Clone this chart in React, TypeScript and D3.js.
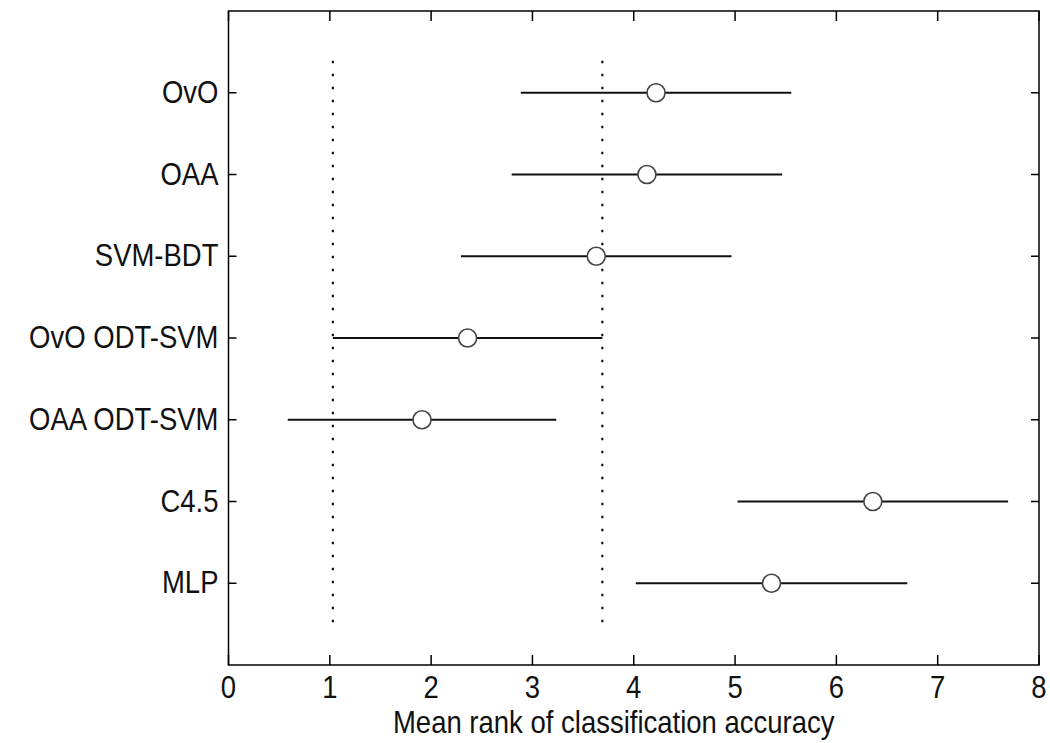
import React from 'react';
import * as d3 from 'd3';

// groups, top to bottom
const groups = ['OvO', 'OAA', 'SVM-BDT', 'OvO ODT-SVM', 'OAA ODT-SVM', 'C4.5', 'MLP'];
// mean ranks (circle centres)
const meanRank = [4.22, 4.13, 3.63, 2.36, 1.91, 6.36, 5.36];
// comparison interval half-width (same for every group)
const halfWidth = [1.335, 1.335, 1.335, 1.33, 1.325, 1.335, 1.34];
// selected group whose interval bounds get dotted lines
const selected = 'OvO ODT-SVM';
const xTicks = [0, 1, 2, 3, 4, 5, 6, 7, 8];
const xLabel = 'Mean rank of classification accuracy';

const W = 1050;
const H = 743;
const margin = { top: 11, right: 11, bottom: 78, left: 228.5 };
const font = 'Liberation Sans, Arial, sans-serif';
const stretch = 1.12; // source picture is slightly taller than wide

function Label({ x, y, anchor, children, dy = 0 }: { x: number; y: number; anchor: string; children: React.ReactNode; dy?: number }) {
  return (
    <text transform={`translate(${x},${y}) scale(1,${stretch})`} dy={dy} textAnchor={anchor}
      fontFamily={font} fontSize={27.5} fill="#111">{children}</text>
  );
}

export default function App() {
  const innerW = W - margin.left - margin.right;
  const innerH = H - margin.top - margin.bottom;

  const x = d3.scaleLinear().domain([0, 8]).range([0, innerW]);
  // group i sits at position n - i on a 0..n+1 axis
  const n = groups.length;
  const y = d3.scaleLinear().domain([0, n + 1]).range([innerH, 0]);
  const yPos = (i: number) => y(n - i);

  const si = groups.indexOf(selected);
  const bounds = [meanRank[si] - halfWidth[si], meanRank[si] + halfWidth[si]];

  return (
    <svg width={W} height={H} style={{ position: 'absolute', left: 0, top: 0, background: '#fff' }}>
      <g transform={`translate(${margin.left},${margin.top})`}>
        {/* dotted reference lines */}
        {bounds.map((b, k) => (
          <line key={k} x1={x(b)} x2={x(b)} y1={y(7.39)} y2={y(0.51)}
            stroke="#000" strokeWidth={2} strokeDasharray="2.5 10.5" />
        ))}

        {/* intervals */}
        {groups.map((g, i) => (
          <line key={g} x1={x(meanRank[i] - halfWidth[i])} x2={x(meanRank[i] + halfWidth[i])}
            y1={yPos(i)} y2={yPos(i)} stroke="#111" strokeWidth={2} />
        ))}
        {groups.map((g, i) => (
          <circle key={g} cx={x(meanRank[i])} cy={yPos(i)} r={9}
            fill="#fff" stroke="#444" strokeWidth={1.6} />
        ))}

        {/* frame */}
        <rect x={0} y={0} width={innerW} height={innerH} fill="none" stroke="#000" strokeWidth={1.5} />

        {/* x ticks */}
        {xTicks.map(t => (
          <g key={t}>
            <line x1={x(t)} x2={x(t)} y1={innerH} y2={innerH - 10} stroke="#000" strokeWidth={1.5} />
            <line x1={x(t)} x2={x(t)} y1={0} y2={10} stroke="#000" strokeWidth={1.5} />
            <Label x={x(t)} y={innerH + 33} anchor="middle">{t}</Label>
          </g>
        ))}

        {/* y ticks */}
        {groups.map((g, i) => (
          <g key={g}>
            <line x1={0} x2={8} y1={yPos(i)} y2={yPos(i)} stroke="#000" strokeWidth={1.5} />
            <line x1={innerW} x2={innerW - 8} y1={yPos(i)} y2={yPos(i)} stroke="#000" strokeWidth={1.5} />
            <Label x={-10} y={yPos(i) + 10} anchor="end">{g}</Label>
          </g>
        ))}

        <Label x={innerW / 2 - 20} y={innerH + 68} anchor="middle">{xLabel}</Label>
      </g>
    </svg>
  );
}
